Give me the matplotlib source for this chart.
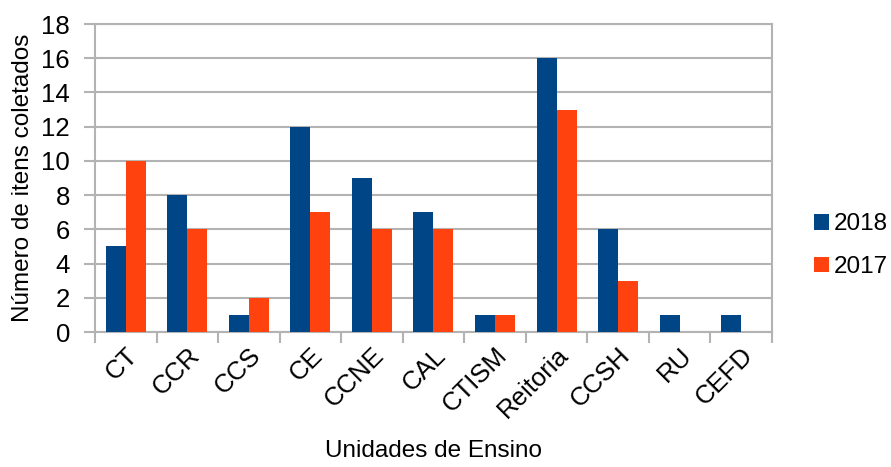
import numpy as np
import matplotlib
matplotlib.use("Agg")
import matplotlib.pyplot as plt

plt.rcParams['font.family'] = ['Liberation Sans', 'DejaVu Sans']

unidades = ['CT', 'CCR', 'CCS', 'CE', 'CCNE', 'CAL', 'CTISM', 'Reitoria', 'CCSH', 'RU', 'CEFD']
itens_2018 = [5, 8, 1, 12, 9, 7, 1, 16, 6, 1, 1]
itens_2017 = [10, 6, 2, 7, 6, 6, 1, 13, 3, 0, 0]

azul = '#004586'
laranja = '#ff420e'
cinza = '#b3b3b3'

fig = plt.figure(figsize=(8.91, 4.67), dpi=100)
ax = fig.add_axes([0.1066, 0.289, 0.7598, 0.6596])

x = np.arange(len(unidades))
w = 0.325
ax.bar(x - w / 2, itens_2018, w, color=azul, label='2018', zorder=3)
ax.bar(x + w / 2, itens_2017, w, color=laranja, label='2017', zorder=3)

ax.set_xlim(-0.5, len(unidades) - 0.5)
ax.set_ylim(0, 18)
ax.set_yticks(range(0, 19, 2))
ax.yaxis.grid(True, color=cinza, linewidth=1.5, zorder=0)

# ticks de categoria nas divisas entre grupos
ax.set_xticks(np.arange(len(unidades) + 1) - 0.5)
ax.set_xticklabels([])
ax.set_xticks(x, minor=True)
ax.set_xticklabels(unidades, minor=True, rotation=45, ha='right',
                   rotation_mode='anchor', fontsize=18.5)
ax.tick_params(axis='x', which='minor', length=0, pad=8)
ax.tick_params(axis='x', which='major', length=8, width=1.5, color=cinza)
ax.tick_params(axis='y', length=8, width=1.5, color=cinza, labelsize=18.5, pad=10)

for s in ax.spines.values():
    s.set_color(cinza)
    s.set_linewidth(1.5)

ax.set_ylabel('Número de itens coletados', fontsize=17.5, labelpad=5)
ax.set_xlabel('Unidades de Ensino', fontsize=17.5, labelpad=12)

ax.legend(loc='center left', bbox_to_anchor=(1.048, 0.28), frameon=False,
          fontsize=17.5, handlelength=0.62, handleheight=0.62, handletextpad=0.2,
          labelspacing=0.85, borderaxespad=0)

fig.savefig('out.png', dpi=100)
